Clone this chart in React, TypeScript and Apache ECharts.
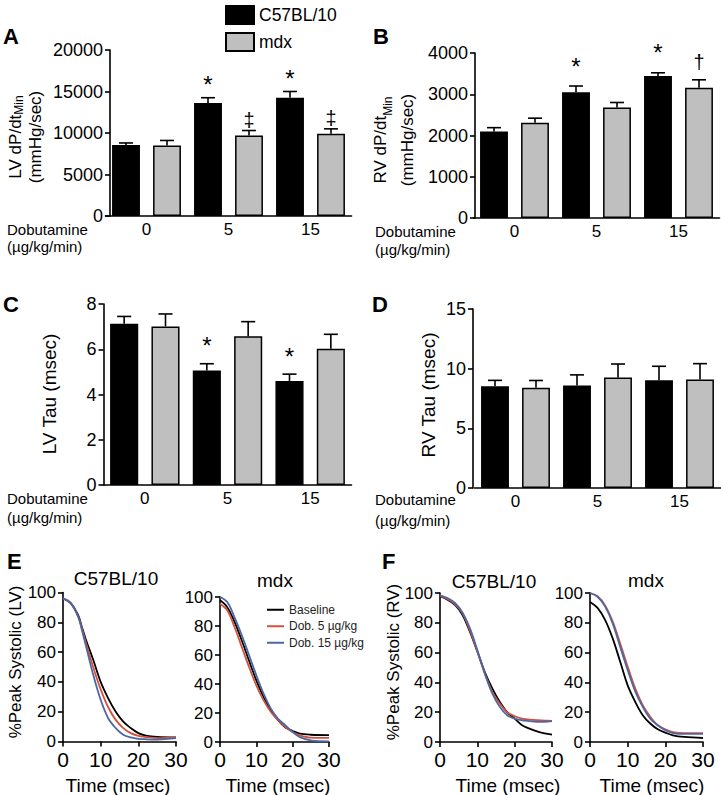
import React, { useEffect, useRef } from "react";
import * as echarts from "echarts";

const FONT = '"Liberation Sans", Arial, Helvetica, sans-serif';
const RED = "#d5513c";
const BLUE = "#4b68a6";
const GREY = "#bfbfbf";
const BAR_FRAC = 0.68;

// ---------- Bar data ----------
const DOSES = ["0", "5", "15"];
const SLOTS = ["0 C57", "0 mdx", "5 C57", "5 mdx", "15 C57", "15 mdx"];

// Panel A: LV dP/dt min
const lvDpdtC57 = [8550, 13600, 14250];
const lvDpdtC57Sem = [250, 650, 750];
const lvDpdtMdx = [8500, 9700, 9900];
const lvDpdtMdxSem = [600, 600, 600];
const lvDpdtC57Sym = ["", "*", "*"];
const lvDpdtMdxSym = ["", "‡", "‡"];

// Panel B: RV dP/dt min
const rvDpdtC57 = [2100, 3050, 3440];
const rvDpdtC57Sem = [90, 150, 80];
const rvDpdtMdx = [2310, 2680, 3160];
const rvDpdtMdxSem = [110, 120, 190];
const rvDpdtC57Sym = ["", "*", "*"];
const rvDpdtMdxSym = ["", "", "†"];

// Panel C: LV Tau
const lvTauC57 = [7.13, 5.06, 4.6];
const lvTauC57Sem = [0.32, 0.3, 0.3];
const lvTauMdx = [7.01, 6.57, 6.02];
const lvTauMdxSem = [0.55, 0.65, 0.64];
const lvTauC57Sym = ["", "*", "*"];
const lvTauMdxSym = ["", "", ""];

// Panel D: RV Tau
const rvTauC57 = [8.52, 8.58, 9.02];
const rvTauC57Sem = [0.5, 0.9, 1.18];
const rvTauMdx = [8.41, 9.25, 9.1];
const rvTauMdxSem = [0.6, 1.14, 1.32];
const rvTauC57Sym = ["", "", ""];
const rvTauMdxSym = ["", "", ""];

// ---------- Relaxation curves ----------
const LINE_NAMES = ["Baseline", "Dob. 5 µg/kg", "Dob. 15 µg/kg"];

const eLeftT = [0, 2, 4, 5, 6, 8, 10, 12, 14, 16, 18, 20, 22, 25, 30];
const eLeftBase = [96, 93, 85, 77, 69, 55, 40, 29, 20, 13.4, 9, 5.6, 4, 3.1, 2.7];
const eLeftDob5 = [96, 93, 84, 76, 67, 50, 35, 23, 14.5, 9, 5.6, 3.8, 3, 2.2, 2.7];
const eLeftDob15 = [96, 93, 84, 75, 65, 45, 28, 15.6, 9, 4.5, 2.7, 1.8, 1.5, 1.3, 2.2];

const eRightT = [0, 2, 4, 6, 8, 10, 12, 14, 16, 18, 20, 22, 25, 30];
const eRightBase = [97.7, 93, 82.8, 70, 56, 42.5, 31, 22, 15, 10, 7.6, 5.7, 5, 4.8];
const eRightDob5 = [95.4, 90.8, 79.3, 65.5, 51.7, 39, 28.7, 20.7, 15, 10.3, 6.9, 4.6, 3, 2.8];
const eRightDob15 = [100, 96.5, 86, 73.6, 59.8, 46, 33.3, 23, 16, 11.5, 6.9, 3.4, 1.1, 0.5];

const fLeftT = [0, 2, 4, 6, 8, 10, 12, 14, 16, 18, 20, 22, 24, 26, 28, 30];
const fLeftBase = [97.8, 95.5, 92, 85.4, 74, 60.7, 47, 36, 27, 20, 15.7, 11.2, 9, 7.2, 5.8, 5];
const fLeftDob5 = [98.2, 96, 92.6, 86.5, 75, 60.7, 46, 33.7, 25.8, 20, 17.3, 15.7, 15, 14.6, 14.4, 14.2];
const fLeftDob15 = [98.5, 96.6, 93.3, 87, 76.4, 61.8, 46, 32.6, 23.6, 18, 15.7, 14.6, 14, 13.5, 13.6, 14];

const fRightT = [0, 2, 4, 6, 8, 10, 12, 14, 16, 18, 20, 22, 25, 30];
const fRightBase = [94, 90, 82, 69.7, 54, 38, 27, 18, 12.4, 8.5, 6.3, 4.5, 3.4, 2.7];
const fRightDob5 = [100, 97.8, 91.7, 81, 66.3, 50.6, 36, 24.7, 16.9, 11.2, 8.5, 6.7, 6, 6];
const fRightDob15 = [100, 97.5, 91, 79.8, 64, 48.3, 34, 23.6, 15.7, 11.2, 7.9, 6, 5.4, 5.4];

const PCT_TICKS = { min: 0, max: 100, interval: 20 };
const TIME_TICKS = { min: 0, max: 30, interval: 10 };

function buildOption() {
  const grids: any[] = [];
  const xAxes: any[] = [];
  const yAxes: any[] = [];
  const series: any[] = [];

  const axisLine = { show: true, lineStyle: { color: "#000", width: 1.6 } };
  const plain = (v: number) => String(v);

  function addBarPanel(p: any) {
    const g = grids.length;
    grids.push({ left: p.left, top: p.top, width: p.width, height: p.height });
    const xi = xAxes.length;
    xAxes.push({
      type: "category", gridIndex: g, data: SLOTS, position: "bottom",
      axisLine, axisTick: { show: false }, axisLabel: { show: false }, boundaryGap: true,
    });
    xAxes.push({
      type: "category", gridIndex: g, data: DOSES, position: "bottom",
      axisLine: { show: false }, axisTick: { show: false },
      axisLabel: { fontSize: 17, color: "#000", fontFamily: FONT, margin: 5 },
    });
    const yi = yAxes.length;
    yAxes.push({
      type: "value", gridIndex: g, min: 0, max: p.max, interval: p.interval, offset: p.yOffset,
      splitLine: { show: false }, axisLine,
      axisTick: { show: true, length: 5, lineStyle: { color: "#000", width: 1.6 } },
      axisLabel: { fontSize: 18, color: "#000", fontFamily: FONT, margin: 7, formatter: plain },
    });
    const c57 = SLOTS.map((_, i) => (i % 2 === 0 ? p.c57[i / 2] : "-"));
    const mdx = SLOTS.map((_, i) => (i % 2 === 1 ? p.mdx[(i - 1) / 2] : "-"));
    series.push({
      type: "bar", name: "C57BL/10", xAxisIndex: xi, yAxisIndex: yi, data: c57,
      barWidth: BAR_FRAC * 100 + "%", barGap: "-100%",
      itemStyle: { color: "#000", borderColor: "#000", borderWidth: 1.5 },
    });
    series.push({
      type: "bar", name: "mdx", xAxisIndex: xi, yAxisIndex: yi, data: mdx,
      barWidth: BAR_FRAC * 100 + "%", barGap: "-100%",
      itemStyle: { color: GREY, borderColor: "#000", borderWidth: 1.5 },
    });
    const errData: any[] = [];
    const syms: string[] = [];
    for (let k = 0; k < 3; k++) {
      errData.push([2 * k, p.c57[k], p.c57Sem[k]]);
      syms.push(p.c57Sym[k]);
      errData.push([2 * k + 1, p.mdx[k], p.mdxSem[k]]);
      syms.push(p.mdxSym[k]);
    }
    series.push({
      type: "custom", xAxisIndex: xi, yAxisIndex: yi, data: errData, z: 5,
      encode: { x: 0, y: 1 },
      renderItem: (params: any, api: any) => {
        const i = api.value(0);
        const m = api.value(1);
        const s = api.value(2);
        const base = api.coord([i, m]);
        const top = api.coord([i, m + s]);
        const bw = api.size([1, 0])[0] * BAR_FRAC;
        const half = bw / 4;
        const sym = syms[params.dataIndex];
        const children: any[] = [
          { type: "line", shape: { x1: base[0], y1: base[1], x2: top[0], y2: top[1] }, style: { stroke: "#000", lineWidth: 1.6 } },
          { type: "line", shape: { x1: top[0] - half, y1: top[1], x2: top[0] + half, y2: top[1] }, style: { stroke: "#000", lineWidth: 1.6 } },
        ];
        if (sym) {
          children.push({
            type: "text", x: top[0], y: top[1] - p.symGap,
            style: {
              text: sym, fill: "#000", fontFamily: FONT,
              fontSize: sym === "*" ? 24 : 20,
              align: "center", verticalAlign: "bottom",
            },
          });
        }
        return { type: "group", children };
      },
    });
  }

  function addLinePanel(p: any) {
    const g = grids.length;
    grids.push({ left: p.left, top: p.top, width: p.width, height: p.height });
    const xi = xAxes.length;
    xAxes.push({
      type: "value", gridIndex: g, ...TIME_TICKS, splitLine: { show: false }, axisLine,
      axisTick: { show: true, length: 5, lineStyle: { color: "#000", width: 1.6 } },
      axisLabel: { fontSize: 21, color: "#000", fontFamily: FONT, margin: 7, formatter: plain },
    });
    const yi = yAxes.length;
    yAxes.push({
      type: "value", gridIndex: g, ...PCT_TICKS, splitLine: { show: false }, axisLine,
      axisTick: { show: true, length: 5, lineStyle: { color: "#000", width: 1.6 } },
      axisLabel: { fontSize: 17, color: "#000", fontFamily: FONT, margin: 7, formatter: plain },
    });
    const colors = ["#000", RED, BLUE];
    p.curves.forEach((vals: number[], k: number) => {
      series.push({
        type: "line", name: LINE_NAMES[k], xAxisIndex: xi, yAxisIndex: yi,
        data: p.t.map((t: number, j: number) => [t, vals[j]]),
        smooth: 0.35, showSymbol: false, symbol: "none",
        lineStyle: { color: colors[k], width: 1.8 }, itemStyle: { color: colors[k] },
      });
    });
  }

  addBarPanel({
    left: 105.5, top: 50, width: 246, height: 166, max: 20000, interval: 5000, yOffset: -4.5,
    c57: lvDpdtC57, c57Sem: lvDpdtC57Sem, mdx: lvDpdtMdx, mdxSem: lvDpdtMdxSem,
    c57Sym: lvDpdtC57Sym, mdxSym: lvDpdtMdxSym, symGap: 1,
  });
  addBarPanel({
    left: 473.5, top: 53, width: 246, height: 165, max: 4000, interval: 1000, yOffset: -1.5,
    c57: rvDpdtC57, c57Sem: rvDpdtC57Sem, mdx: rvDpdtMdx, mdxSem: rvDpdtMdxSem,
    c57Sym: rvDpdtC57Sym, mdxSym: rvDpdtMdxSym, symGap: 8,
  });
  addBarPanel({
    left: 103.5, top: 304, width: 248, height: 181, max: 8, interval: 2, yOffset: 0,
    c57: lvTauC57, c57Sem: lvTauC57Sem, mdx: lvTauMdx, mdxSem: lvTauMdxSem,
    c57Sym: lvTauC57Sym, mdxSym: lvTauMdxSym, symGap: 6,
  });
  addBarPanel({
    left: 474.5, top: 309, width: 246, height: 179, max: 15, interval: 5, yOffset: 1.5,
    c57: rvTauC57, c57Sem: rvTauC57Sem, mdx: rvTauMdx, mdxSem: rvTauMdxSem,
    c57Sym: rvTauC57Sym, mdxSym: rvTauMdxSym, symGap: 6,
  });

  addLinePanel({ left: 63, top: 592.5, width: 113, height: 149, t: eLeftT, curves: [eLeftBase, eLeftDob5, eLeftDob15] });
  addLinePanel({ left: 220, top: 597, width: 109, height: 145, t: eRightT, curves: [eRightBase, eRightDob5, eRightDob15] });
  addLinePanel({ left: 440, top: 593, width: 112, height: 149, t: fLeftT, curves: [fLeftBase, fLeftDob5, fLeftDob15] });
  addLinePanel({ left: 590, top: 593, width: 113, height: 149, t: fRightT, curves: [fRightBase, fRightDob5, fRightDob15] });

  const txt = (text: string, x: number, y: number, opts: any = {}) => ({
    type: "text", x, y, rotation: opts.rotation || 0,
    style: {
      text, fill: "#000", fontFamily: FONT, fontSize: opts.fontSize || 17,
      fontWeight: opts.fontWeight || "normal",
      align: opts.align || "left", verticalAlign: "middle",
      lineHeight: opts.lineHeight, rich: opts.rich,
    },
  });
  const R = Math.PI / 2;
  const dpdtRich = (lh: number) => ({
    m: { fontSize: 17, fontFamily: FONT, lineHeight: lh, fill: "#000" },
    s: { fontSize: 12, fontFamily: FONT, lineHeight: 8, verticalAlign: "bottom", fill: "#000" },
  });

  const graphic: any[] = [
    txt("A", 3, 36, { fontSize: 22, fontWeight: "bold" }),
    txt("B", 373, 36, { fontSize: 22, fontWeight: "bold" }),
    txt("C", 3, 304, { fontSize: 22, fontWeight: "bold" }),
    txt("D", 372, 304, { fontSize: 22, fontWeight: "bold" }),
    txt("E", 7, 561, { fontSize: 22, fontWeight: "bold" }),
    txt("F", 382, 561, { fontSize: 22, fontWeight: "bold" }),

    txt("{m|LV dP/dt}{s|Min}\n{m|(mmHg/sec)}", 25, 137, { rotation: R, align: "center", rich: dpdtRich(20) }),
    txt("{m|RV dP/dt}{s|Min}\n{m|(mmHg/sec)}", 394, 140, { rotation: R, align: "center", rich: dpdtRich(27) }),
    txt("LV Tau (msec)", 49, 394, { rotation: R, align: "center", fontSize: 19 }),
    txt("RV Tau (msec)", 428, 395, { rotation: R, align: "center", fontSize: 19 }),
    txt("%Peak Systolic (LV)", 15, 662, { rotation: R, align: "center", fontSize: 17 }),
    txt("%Peak Systolic (RV)", 393, 662, { rotation: R, align: "center", fontSize: 17 }),

    txt("Dobutamine", 7, 229, { fontSize: 15 }),
    txt("(µg/kg/min)", 7, 246, { fontSize: 15 }),
    txt("Dobutamine", 375, 231, { fontSize: 15 }),
    txt("(µg/kg/min)", 375, 249, { fontSize: 15 }),
    txt("Dobutamine", 7, 498, { fontSize: 15 }),
    txt("(µg/kg/min)", 7, 517, { fontSize: 15 }),
    txt("Dobutamine", 375, 499, { fontSize: 15 }),
    txt("(µg/kg/min)", 375, 520, { fontSize: 15 }),

    txt("C57BL/10", 116, 578, { align: "center", fontSize: 19 }),
    txt("mdx", 275, 580, { align: "center", fontSize: 19 }),
    txt("C57BL/10", 494, 581, { align: "center", fontSize: 19 }),
    txt("mdx", 646, 580, { align: "center", fontSize: 19 }),

    txt("Time (msec)", 118, 785, { align: "center", fontSize: 19 }),
    txt("Time (msec)", 278, 785, { align: "center", fontSize: 19 }),
    txt("Time (msec)", 508, 785, { align: "center", fontSize: 19 }),
    txt("Time (msec)", 652, 785, { align: "center", fontSize: 19 }),
  ];

  return {
    animation: false,
    backgroundColor: "#fff",
    textStyle: { fontFamily: FONT },
    grid: grids,
    xAxis: xAxes,
    yAxis: yAxes,
    series,
    legend: [
      {
        data: ["C57BL/10", "mdx"], orient: "vertical", left: 220, top: 0,
        itemWidth: 28, itemHeight: 18, itemGap: 7, icon: "rect", selectedMode: false,
        textStyle: { fontSize: 17.5, color: "#000", fontFamily: FONT },
      },
      {
        data: LINE_NAMES, orient: "vertical", left: 262, top: 598,
        itemWidth: 17, itemHeight: 2, itemGap: 3, icon: "rect", selectedMode: false,
        textStyle: { fontSize: 12, color: "#222", fontFamily: FONT, lineHeight: 13.5 },
      },
    ],
    graphic,
  };
}

export default function App() {
  const ref = useRef<HTMLDivElement>(null);
  useEffect(() => {
    if (!ref.current) return;
    const chart = echarts.init(ref.current, undefined, { renderer: "svg" });
    chart.setOption(buildOption() as any);
    return () => chart.dispose();
  }, []);
  return (
    <div
      ref={ref}
      style={{ position: "absolute", left: 0, top: 0, width: 721, height: 795, background: "#fff" }}
    />
  );
}
